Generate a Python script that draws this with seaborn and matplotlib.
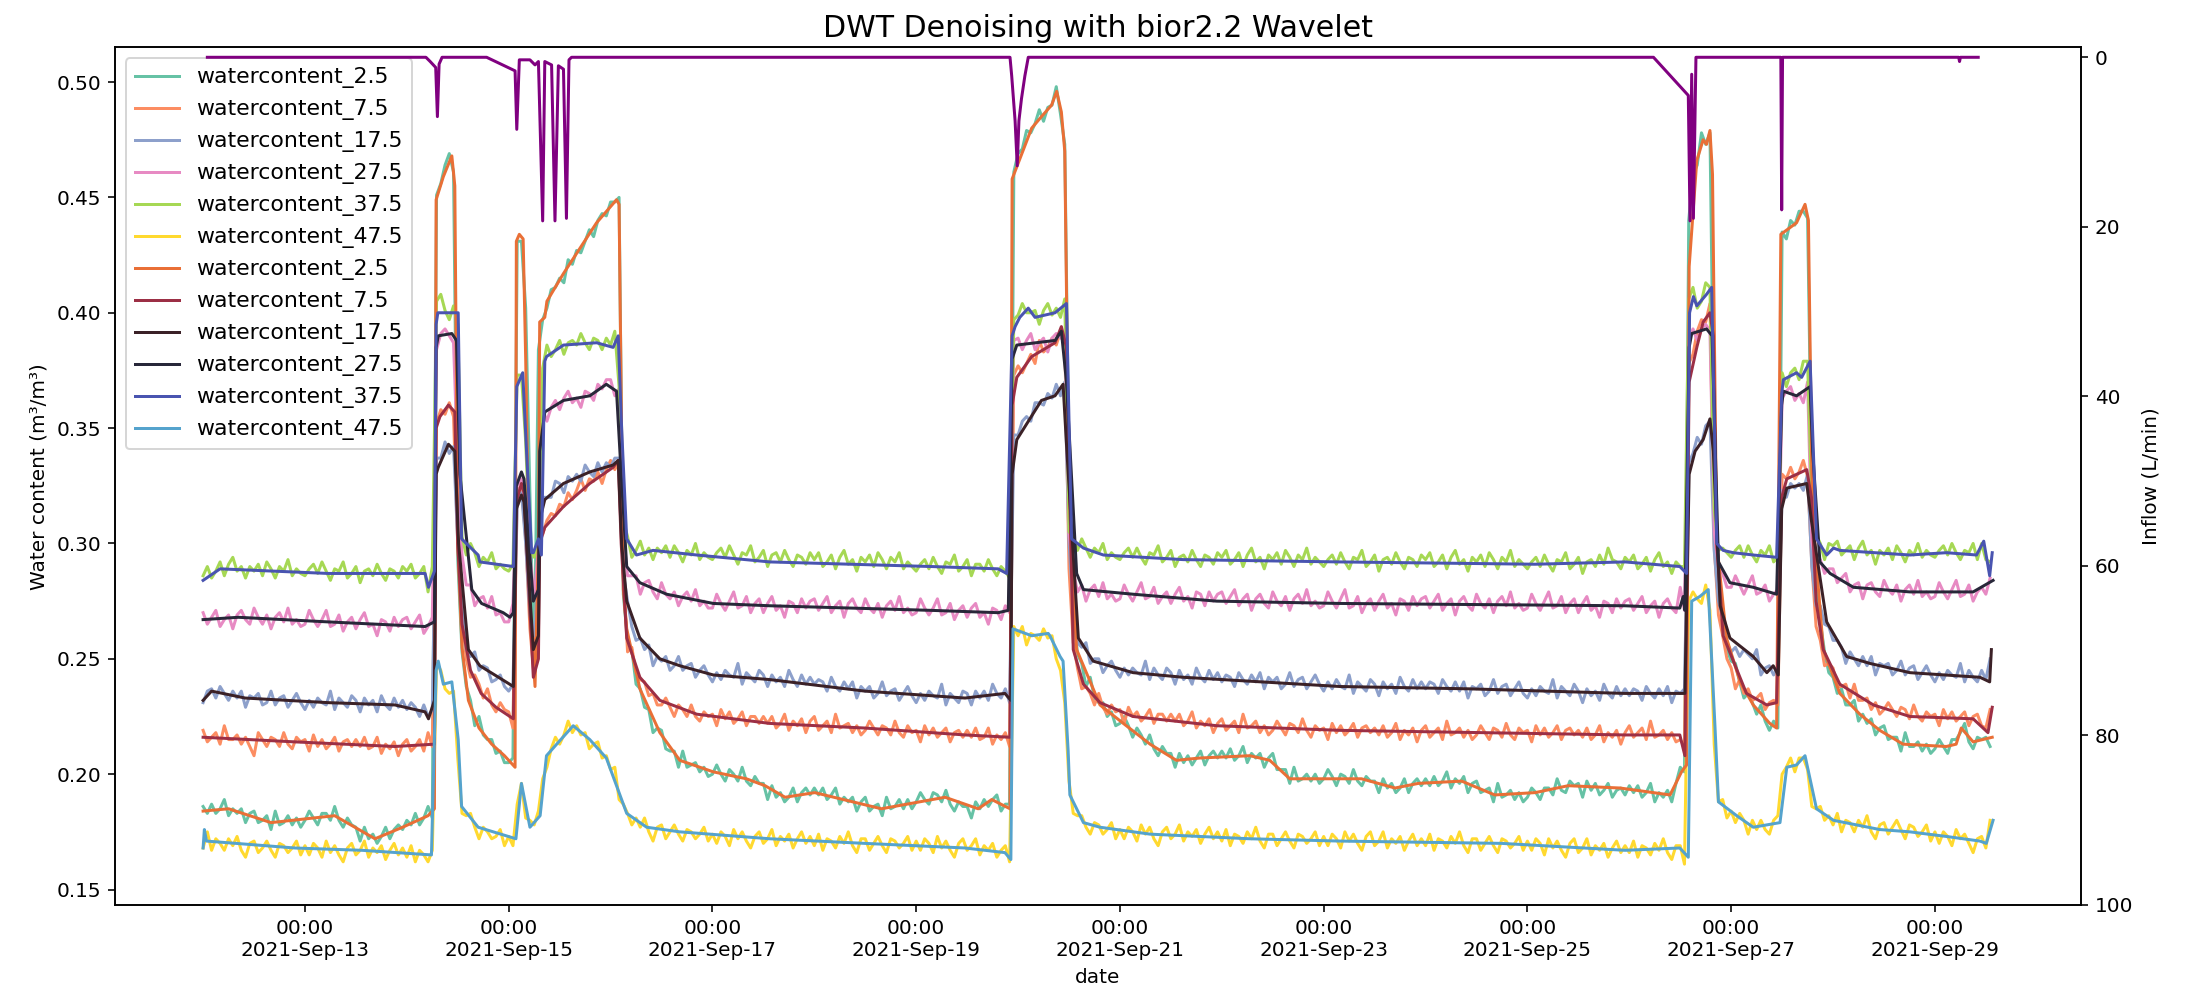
import numpy as np
import pandas as pd
import matplotlib
matplotlib.use("Agg")
import matplotlib.pyplot as plt
import matplotlib.dates as mdates
import seaborn as sns

START = pd.Timestamp("2021-09-12 00:00")
depths = ["2.5", "7.5", "17.5", "27.5", "37.5", "47.5"]

# Hourly probe readings (thousandths of m3/m3), one row per day from 2021-09-12 00:00
raw_wc_2_5 = [
    186,183,187,183,185,189,182,185,183,185,179,183,184,179,180,182,176,184,178,179,182,178,181,177,
    180,184,181,178,183,183,180,186,180,177,181,178,177,171,177,172,174,170,173,177,172,176,178,176,
    180,178,183,178,181,186,181,451,456,464,469,461,293,253,238,232,221,225,217,215,215,209,210,205,
    205,207,431,431,402,321,243,384,397,402,410,411,415,413,423,421,427,426,431,436,433,440,443,442,
    448,448,450,278,258,254,239,237,229,228,218,220,219,211,210,210,203,210,203,204,205,201,203,199,
    200,204,200,197,202,200,197,203,197,195,199,196,196,189,195,190,192,188,190,194,188,192,194,191,
    194,191,194,189,191,194,187,190,188,190,184,188,190,184,186,187,182,190,185,186,189,185,189,185,
    188,192,189,187,192,191,188,193,187,184,188,186,186,181,188,185,189,186,189,191,184,187,187,461,
    469,471,479,478,482,488,483,489,490,498,486,473,333,273,252,248,238,242,233,231,231,225,227,221,
    222,225,221,216,220,217,213,217,211,208,212,209,209,203,209,205,208,204,207,210,204,208,210,207,
    210,207,211,206,208,212,205,209,207,209,203,207,209,202,202,202,196,203,197,198,200,197,200,196,
    198,202,199,195,200,199,196,202,197,195,199,197,197,192,198,194,196,192,194,198,192,196,198,195,
    198,195,199,195,197,201,194,198,196,199,192,196,197,192,193,194,188,196,190,191,193,189,192,188,
    190,194,192,189,194,194,191,198,193,192,197,195,196,190,197,193,196,191,193,196,190,193,194,191,
    195,192,195,190,192,196,188,192,190,193,188,196,203,201,440,460,464,478,473,478,342,283,267,254,
    249,248,240,233,235,231,226,230,223,219,223,220,435,432,440,438,444,444,441,323,287,266,253,244,
    242,235,237,230,230,232,223,226,222,224,217,220,221,215,216,216,210,218,212,212,214,210,213,209,
    211,215,212,209,215,215,218,222,214,211,216,215,216,212,
]
raw_wc_7_5 = [
    219,214,216,218,213,221,215,215,217,213,216,212,208,218,215,212,216,215,212,218,213,211,216,214,
    215,210,217,212,215,211,213,216,210,214,215,212,215,212,216,211,212,216,209,213,211,214,208,213,
    215,210,212,215,210,218,212,352,358,356,361,355,299,268,250,242,243,239,233,237,230,227,231,228,
    227,220,323,325,302,263,242,303,304,310,313,312,317,316,322,319,323,328,323,328,327,331,326,332,
    336,332,336,287,253,255,244,241,240,234,235,230,230,233,229,225,230,228,225,230,225,223,227,225,
    226,221,228,224,227,222,224,227,221,225,225,222,225,222,225,220,222,226,219,223,221,224,218,223,
    225,219,221,223,218,226,220,221,222,218,221,217,219,223,220,217,221,220,217,223,218,216,221,218,
    219,214,221,217,220,216,218,220,214,218,219,216,219,216,220,215,216,220,213,217,215,218,212,373,
    377,374,378,382,378,388,383,385,389,386,392,389,289,257,246,237,238,235,230,235,229,226,230,227,
    228,222,229,225,227,223,225,228,222,226,226,223,226,223,226,221,223,227,220,223,221,224,218,222,
    224,219,221,223,218,226,220,221,223,218,221,217,219,223,220,217,222,221,218,224,219,216,221,219,
    220,215,222,218,221,217,219,222,216,220,221,218,220,217,221,216,218,222,215,219,217,220,214,219,
    221,216,218,220,215,223,217,218,220,216,219,215,217,221,218,215,220,219,216,222,217,215,220,218,
    219,214,221,217,220,216,218,221,215,219,220,217,219,216,220,215,217,221,214,218,216,219,213,218,
    221,216,218,220,215,223,216,217,219,215,218,214,215,212,378,382,392,397,396,404,299,269,260,250,
    246,237,241,235,237,232,233,235,228,231,232,230,330,328,333,328,331,336,329,291,264,258,247,248,
    246,238,238,239,233,239,232,232,233,228,231,226,228,231,228,225,229,228,224,230,225,223,227,225,
    226,221,228,224,227,223,225,227,221,225,226,221,220,228,
]
raw_wc_17_5 = [
    231,236,237,233,238,235,232,236,233,236,229,234,233,235,230,231,236,230,233,234,229,232,235,231,
    228,232,229,233,231,230,236,228,233,231,229,234,232,227,233,230,232,227,234,230,228,233,229,232,
    228,231,229,225,230,225,228,337,337,344,339,342,300,272,254,251,253,245,247,246,240,241,243,238,
    236,239,316,322,300,269,260,287,320,320,320,327,326,322,329,327,330,327,334,331,329,335,331,335,
    333,337,337,287,275,264,258,259,254,256,247,251,249,251,245,247,251,245,247,248,242,245,247,243,
    240,244,241,245,243,242,248,239,244,242,240,245,243,238,243,240,242,238,245,241,238,243,239,242,
    239,241,240,236,242,238,236,240,237,240,233,238,236,238,233,235,240,234,236,237,232,235,238,234,
    231,235,232,236,234,233,239,230,235,233,231,236,235,230,236,233,236,232,239,235,233,237,231,347,
    347,353,355,353,361,361,360,365,363,369,364,370,300,272,257,255,257,248,250,250,244,247,249,245,
    242,246,243,246,244,243,249,241,246,243,241,246,244,239,245,241,243,239,246,242,240,245,241,244,
    240,243,242,238,244,241,239,243,240,244,237,242,240,242,237,239,244,238,241,242,237,240,243,239,
    236,240,237,241,238,237,243,235,240,238,236,241,239,234,240,237,239,235,242,238,236,241,237,240,
    237,240,239,235,241,238,236,240,236,240,233,238,237,239,234,236,241,235,238,239,234,237,240,235,
    233,237,234,238,236,235,241,233,238,236,234,239,236,231,237,234,236,232,239,235,233,238,234,237,
    234,237,236,232,238,235,233,237,234,238,231,236,235,237,335,339,346,343,351,353,297,275,268,257,
    253,255,251,254,252,250,254,243,246,247,243,246,323,320,326,324,326,323,330,290,273,273,265,264,
    258,258,255,248,253,250,247,251,247,251,243,248,247,248,243,245,249,243,246,247,241,244,247,243,
    240,244,241,245,243,242,248,240,245,242,240,245,241,250,
]
raw_wc_27_5 = [
    270,265,268,271,264,267,269,263,269,271,267,265,272,268,265,269,263,268,270,266,272,265,267,264,
    265,271,267,264,267,271,264,265,269,262,266,268,263,267,270,264,265,260,267,266,262,268,264,267,
    268,263,266,269,261,264,268,384,391,393,390,387,334,295,282,282,273,276,277,272,277,269,270,266,
    266,274,325,328,316,295,276,299,358,353,359,362,358,363,366,361,363,359,366,365,362,369,367,371,
    371,364,367,304,286,286,286,278,283,284,279,276,283,278,276,279,273,277,279,275,280,273,275,272,
    272,278,274,271,275,279,272,273,277,270,274,276,270,274,277,271,273,268,275,274,270,276,272,275,
    276,271,274,277,270,273,275,268,274,276,272,270,276,272,270,274,268,273,275,271,277,270,272,269,
    270,276,272,269,272,276,269,270,274,267,271,273,268,272,274,268,270,265,272,271,267,273,270,388,
    389,384,388,391,384,387,389,383,389,391,389,389,304,288,279,282,275,280,282,277,283,276,278,275,
    276,282,278,275,279,283,276,277,281,274,277,279,274,278,281,275,277,272,279,278,273,279,275,278,
    279,274,277,280,273,276,278,271,276,278,274,272,279,275,273,277,271,276,278,274,280,273,275,272,
    273,279,275,272,276,280,272,273,277,270,274,276,271,275,278,272,274,269,276,275,271,277,273,276,
    277,272,275,278,271,274,276,269,275,277,273,271,278,274,272,276,270,275,277,273,279,272,274,271,
    272,278,274,271,275,279,272,273,277,270,274,276,270,274,277,271,273,268,275,274,270,276,272,275,
    276,271,274,277,270,273,275,268,274,276,272,270,281,271,388,393,388,393,395,392,305,290,287,281,
    281,286,282,278,282,286,278,279,282,275,278,280,363,366,368,362,365,361,370,301,290,293,287,289,
    289,283,285,287,279,282,283,276,282,283,279,277,284,280,278,282,275,280,282,278,284,277,279,276,
    277,283,279,276,280,284,277,278,282,275,279,281,278,285,
]
raw_wc_37_5 = [
    286,290,285,288,292,286,291,294,288,290,285,290,288,291,286,292,289,285,290,288,293,286,289,287,
    286,289,291,287,292,288,284,289,288,292,285,287,290,283,288,289,286,291,287,284,289,288,285,290,
    288,291,285,287,290,279,290,405,408,401,397,403,395,303,295,300,296,290,294,292,296,289,291,289,
    288,291,373,373,344,297,294,302,376,386,381,384,388,382,387,388,386,391,387,384,389,388,384,389,
    386,392,368,310,303,294,297,301,295,298,293,298,296,299,294,299,296,292,297,295,300,293,296,294,
    293,296,298,294,299,295,291,296,295,299,292,294,297,290,295,296,292,297,293,290,295,294,291,296,
    293,296,290,292,295,289,294,297,291,293,288,294,292,295,290,296,293,289,294,292,296,289,292,290,
    288,291,293,289,294,290,287,292,291,295,288,290,293,286,291,291,288,293,289,286,290,288,285,397,
    399,404,400,400,401,395,401,404,399,402,398,406,305,303,297,302,298,294,298,296,300,293,296,294,
    293,296,298,294,298,294,291,296,295,299,292,294,297,290,294,295,292,297,293,290,295,294,291,296,
    294,297,291,293,296,290,295,298,292,294,289,295,293,296,291,297,294,290,295,293,298,291,294,292,
    290,293,295,291,296,292,289,294,293,297,290,292,295,288,293,294,291,296,292,289,294,293,290,295,
    293,296,290,292,295,289,294,297,291,293,288,294,292,295,290,296,293,289,294,292,297,290,293,291,
    289,292,294,290,295,291,288,293,292,296,289,291,294,287,292,293,290,295,291,298,293,292,289,294,
    292,295,289,291,294,288,293,296,290,292,287,292,290,290,406,411,402,405,413,411,315,297,298,296,
    294,297,299,294,299,295,292,297,295,299,292,294,374,368,374,376,371,379,379,317,304,300,293,300,
    299,301,295,297,299,293,298,301,295,297,291,297,295,298,293,299,296,292,297,295,300,294,297,295,
    294,297,299,295,300,296,293,297,296,300,293,300,293,292,
]
raw_wc_47_5 = [
    168,175,167,172,170,167,172,169,173,167,164,170,171,166,168,171,167,164,170,169,166,168,171,165,
    169,165,170,168,164,171,166,169,165,162,168,170,165,167,171,164,168,166,169,163,167,170,165,168,
    164,169,162,167,165,162,167,248,245,237,235,236,207,183,182,183,177,172,177,175,172,173,176,169,
    173,169,187,196,181,180,178,184,198,203,211,216,213,217,223,218,221,217,218,211,213,214,207,208,
    202,203,189,187,183,178,181,177,181,175,171,177,178,172,175,178,174,171,176,175,172,174,177,171,
    174,170,175,173,169,176,172,175,171,168,173,175,170,172,176,169,173,171,174,168,172,175,170,173,
    169,174,167,172,171,168,173,170,175,169,166,172,172,167,170,173,169,166,172,171,168,170,173,167,
    171,167,172,170,166,173,168,171,167,164,170,172,167,169,172,165,169,167,170,164,167,169,162,264,
    260,264,256,261,260,258,263,259,260,250,245,231,197,183,182,182,177,174,179,178,174,176,179,172,
    176,172,177,175,171,178,174,177,172,169,175,177,172,174,178,171,175,173,176,170,174,177,172,175,
    171,176,169,174,173,170,175,172,177,171,168,174,174,169,172,175,171,168,174,173,170,172,175,169,
    173,169,174,172,168,175,171,174,170,167,173,175,169,171,175,168,172,170,173,167,171,174,169,172,
    169,174,167,172,171,168,173,170,175,169,166,172,172,167,170,173,169,166,172,171,168,170,173,167,
    171,167,172,170,165,172,168,171,167,164,170,172,166,168,172,165,169,167,170,164,168,171,166,169,
    166,171,164,169,168,165,170,167,172,166,163,169,169,161,275,279,276,274,282,271,213,188,189,181,
    184,179,183,180,174,180,176,180,176,174,180,182,200,203,207,201,207,207,202,186,185,186,180,182,
    178,183,175,180,179,175,180,177,182,175,172,178,179,174,177,180,176,172,178,177,173,175,178,171,
    175,170,175,173,169,176,172,174,170,166,172,173,168,180,
]

# Denoised curves: (hours since 2021-09-12 00:00, m3/m3)
den_wc_2_5 = [
    (0, .184), (6, .185), (16, .179), (31, .182), (40.5, .172), (47, .177), (53, .182), (54.5, .185),
    (54.9, .449), (56.6, .459), (58.6, .468), (59.3, .455), (60.0, .300), (61, .255), (62.5, .232),
    (65, .220), (68, .213), (71, .208), (73.5, .203), (73.8, .431), (74.5, .434), (75.4, .432),
    (76, .380), (77, .270), (78.2, .238), (79.0, .300), (79.3, .396), (80.5, .398), (81, .405),
    (84.9, .417), (88.8, .428), (92.7, .439), (97.4, .449), (98.0, .447), (98.7, .330), (99.0, .280),
    (99.8, .263), (102.9, .237), (107.6, .218), (112.3, .206), (120.2, .201), (128, .198),
    (132.4, .195), (137.1, .190), (144.1, .192), (159.8, .185), (174.8, .190), (182.6, .185),
    (185.8, .189), (190.1, .185), (190.6, .458), (195.2, .480), (197.5, .485), (199.9, .490),
    (201.1, .496), (202.2, .487), (203.0, .470), (203.8, .350), (204.6, .290), (205.8, .254),
    (211.3, .230), (216.8, .222), (223.1, .213), (229.3, .206), (234.8, .207), (246.6, .208),
    (251.3, .206), (256, .198), (266.6, .198), (272.9, .198), (280.8, .194), (286.3, .196),
    (296.5, .197), (304.3, .191), (313.8, .192), (321.6, .195), (333.8, .194), (345.6, .191),
    (348.3, .201), (349.5, .204), (350.1, .420), (351.9, .466), (353.4, .475), (354.2, .473),
    (355.0, .479), (355.6, .460), (356.6, .300), (358.9, .259), (362.1, .240), (365.2, .230),
    (369.1, .222), (370.7, .220), (371.7, .434), (375.4, .439), (377.4, .447), (378.2, .440),
    (379.0, .330), (379.7, .300), (381.7, .254), (385.6, .235), (390.3, .226), (395, .219),
    (400.5, .213), (410.7, .212), (413, .213), (414.2, .220), (417, .214), (421.5, .216),
]
den_wc_7_5 = [
    (0, .216), (21.6, .214), (45.2, .212), (54.5, .213), (54.9, .350), (55.8, .355), (57.8, .360),
    (59.3, .357), (60.0, .300), (61, .265), (63, .245), (65.5, .235), (69, .229), (73.1, .224),
    (73.8, .318), (75.0, .326), (75.6, .322), (77.8, .242), (79.0, .250), (79.3, .300), (80.5, .307),
    (84.9, .316), (91.1, .326), (96.6, .333), (97.8, .336), (98.5, .300), (99.8, .259), (102.9, .242),
    (107.6, .232), (116.3, .226), (133.5, .222), (155.9, .220), (179.5, .217), (190.1, .216),
    (190.6, .360), (191.7, .372), (195.2, .381), (200.7, .387), (202.2, .394), (203.4, .385),
    (205, .254), (207.4, .239), (211.3, .231), (219.1, .225), (238.8, .221), (267.8, .219),
    (335, .217), (347.9, .217), (349.1, .208), (350.1, .370), (351.9, .385), (353.4, .396),
    (355, .400), (355.8, .390), (356.6, .300), (358.1, .260), (363.6, .235), (368.4, .230),
    (370.7, .231), (371.9, .320), (373.1, .328), (377.8, .332), (378.9, .320), (380, .275),
    (381.7, .254), (385.6, .239), (393.5, .230), (402.1, .225), (417, .224), (420.5, .218),
    (421.5, .229),
]
den_wc_17_5 = [
    (0, .232), (2, .236), (9.9, .233), (29.5, .231), (45.2, .230), (52.3, .227), (53.1, .224),
    (54.5, .232), (54.9, .330), (55.4, .333), (57.8, .343), (59.3, .340), (60.2, .300), (62.5, .254),
    (65.2, .247), (73.1, .238), (73.8, .315), (75.0, .321), (75.6, .318), (77.8, .254), (79.0, .260),
    (79.3, .310), (80.5, .319), (84.9, .326), (91.1, .331), (96.6, .334), (97.8, .336), (98.6, .300),
    (99.8, .275), (102.9, .259), (107.6, .250), (112.3, .247), (120.2, .243), (133.5, .241),
    (155.9, .236), (179.5, .233), (188.9, .235), (190.3, .232), (190.6, .330), (191.7, .345),
    (197.5, .362), (200.7, .364), (202.6, .369), (203.5, .340), (206.2, .259), (209.7, .249),
    (219.1, .244), (230.9, .242), (267.8, .238), (298, .237), (335, .235), (349.1, .235),
    (350.1, .330), (351.5, .340), (353.4, .345), (355, .354), (355.8, .340), (357.4, .273),
    (359.7, .259), (365.2, .251), (368.4, .244), (369.9, .247), (371.1, .243), (371.9, .315),
    (373.1, .324), (377.8, .326), (378.9, .310), (382.5, .266), (387.2, .251), (392.7, .248),
    (402.1, .244), (418.6, .242), (420.9, .240), (421.3, .254),
]
den_wc_27_5 = [
    (0, .267), (8.3, .268), (29.5, .266), (52.3, .264), (54.5, .266), (54.9, .385), (55.4, .390),
    (58.6, .391), (59.7, .388), (60.5, .330), (63.3, .280), (65.6, .274), (70.7, .270), (72.3, .268),
    (73.1, .270), (73.8, .325), (75.0, .331), (75.6, .328), (77.8, .275), (79.0, .280), (79.3, .340),
    (80.5, .357), (84.9, .362), (91.1, .364), (95, .369), (97.4, .366), (98.5, .330), (99.8, .290),
    (102.9, .283), (109.2, .278), (120.2, .274), (133.5, .273), (171.6, .271), (187.3, .270),
    (189.7, .271), (190.6, .380), (191.7, .386), (200.7, .388), (202.2, .392), (203.4, .370),
    (205.8, .287), (207.4, .280), (219.1, .278), (238.8, .275), (267.8, .274), (335, .273),
    (347.9, .272), (348.7, .277), (349.1, .271), (350.1, .385), (350.7, .391), (354.2, .393),
    (355.5, .390), (357, .292), (359.7, .283), (365.2, .281), (370.7, .278), (371.9, .360),
    (372.3, .366), (375.4, .364), (378.6, .368), (379.2, .340), (380.9, .292), (383.3, .287),
    (388.8, .281), (402.1, .279), (417, .279), (421.7, .284),
]
den_wc_37_5 = [
    (0, .284), (4, .289), (29.5, .287), (52.3, .287), (53.1, .281), (54.5, .288), (54.9, .395),
    (55.3, .400), (60.1, .400), (60.9, .302), (64.8, .295), (65.2, .292), (73.1, .290), (73.9, .368),
    (75.3, .374), (76.2, .340), (77.4, .296), (77.8, .296), (79, .302), (79.7, .295), (80.5, .379),
    (80.9, .381), (84.9, .386), (92.7, .387), (96.6, .385), (97.8, .390), (98.6, .350), (99.8, .302),
    (102.1, .295), (106, .297), (116.3, .295), (133.5, .292), (171.6, .290), (187.3, .289),
    (189.3, .287), (190.6, .390), (191.3, .394), (192.4, .398), (194.4, .402), (196, .398),
    (200.7, .400), (203.4, .404), (204.6, .302), (207.4, .298), (212.1, .295), (230.9, .293),
    (267.8, .292), (313.8, .291), (335, .292), (347.9, .290), (349.5, .287), (350.2, .400),
    (351.1, .407), (351.9, .403), (354.2, .408), (355.4, .411), (356.6, .300), (358.1, .297),
    (360.5, .296), (365.2, .295), (370.7, .294), (371.9, .365), (372.3, .371), (375.4, .374),
    (376.6, .372), (378.6, .379), (380.1, .302), (382.5, .295), (384.1, .298), (385.6, .297),
    (402.1, .295), (410.7, .296), (417.8, .295), (419.5, .301), (420.9, .286), (421.5, .296),
]
den_wc_47_5 = [
    (0, .168), (0.3, .176), (0.8, .171), (21.6, .168), (37.4, .167), (53.8, .165), (54.9, .245),
    (55.4, .249), (56.6, .239), (58.6, .240), (60.1, .215), (60.9, .186), (64.8, .177), (73.7, .172),
    (75, .196), (77, .177), (79.4, .182), (80.9, .208), (83.3, .213), (87.2, .221), (91.1, .215),
    (95, .207), (98.2, .191), (99.8, .183), (104.5, .177), (112.3, .175), (133.5, .172),
    (155.9, .170), (179.5, .168), (188.9, .166), (190.3, .163), (190.8, .263), (195.2, .260),
    (199.1, .261), (199.5, .260), (201.9, .251), (202.6, .249), (203.8, .210), (204.2, .191),
    (207.4, .179), (211.3, .177), (223.1, .174), (246.6, .172), (267.8, .171), (305.9, .170),
    (335, .167), (347.9, .168), (349.9, .164), (350.7, .275), (352.6, .277), (354.6, .280),
    (356.2, .220), (357, .188), (361.3, .182), (365.2, .177), (371.5, .179), (373.1, .203),
    (375.4, .204), (377.4, .208), (380.1, .185), (384.1, .180), (395, .176), (402.1, .175),
    (410.7, .173), (418.6, .171), (420.1, .170), (421.7, .180),
]

# Inflow (L/min): (hours since 2021-09-12 00:00, flow)
inflow = [
    (1, 0), (52.5, 0), (53.5, 0.5), (54.8, 1.2), (55.2, 7.0), (55.6, 0.8), (56.3, 0), (66.8, 0),
    (73.5, 1.6), (73.9, 8.5), (74.5, 0.3), (77, 0.3), (78.2, 0.9), (79, 0.5), (80.0, 19.3),
    (80.5, 0.5), (82.1, 0.9), (82.9, 19.3), (83.7, 1.0), (84.9, 1.4), (85.6, 19.0), (86.2, 0.3),
    (86.8, 0), (190.1, 0), (190.5, 2.2), (191.3, 7.5), (191.8, 12.8), (192.2, 7.5), (192.8, 4.9),
    (193.6, 2.2), (194.4, 0), (341.7, 0), (349.9, 4.5), (350.3, 19.3), (350.7, 2.0), (351.1, 19.0),
    (351.7, 0), (371.7, 0), (371.9, 18.0), (372.1, 0), (413.6, 0), (413.8, 0.5), (414.0, 0),
    (418.2, 0),
]

raw_series = [raw_wc_2_5, raw_wc_7_5, raw_wc_17_5, raw_wc_27_5, raw_wc_37_5, raw_wc_47_5]
den_series = [den_wc_2_5, den_wc_7_5, den_wc_17_5, den_wc_27_5, den_wc_37_5, den_wc_47_5]


def at_hours(h):
    return START + pd.to_timedelta(np.asarray(h, dtype=float), unit="h")


fig, ax = plt.subplots(figsize=(2190 / 144, 997 / 144), dpi=144)
fig.subplots_adjust(left=0.0525, right=0.9502, top=0.9524, bottom=0.0923)

raw_colors = sns.color_palette("Set2", 6)
den_colors = sns.color_palette("icefire_r", 6)

for depth, vals, col in zip(depths, raw_series, raw_colors):
    t = at_hours(np.arange(len(vals)))
    sns.lineplot(x=t, y=np.asarray(vals) / 1000.0, ax=ax, color=col,
                 linewidth=1.5, label=f"watercontent_{depth}")

for depth, knots, col in zip(depths, den_series, den_colors):
    h, v = zip(*knots)
    sns.lineplot(x=at_hours(h), y=np.asarray(v), ax=ax, color=col,
                 linewidth=1.5, label=f"watercontent_{depth}")

ax2 = ax.twinx()
fh, fv = zip(*inflow)
sns.lineplot(x=at_hours(fh), y=np.asarray(fv), ax=ax2, color="purple",
             linewidth=1.5, legend=False)
ax2.set_ylim(100, -1.16)
ax2.set_yticks([0, 20, 40, 60, 80, 100])
ax2.set_ylabel("Inflow (L/min)")

ax.set_xlim(at_hours(-20.76), at_hours(442.4))
ax.set_ylim(0.1433, 0.515)
ax.xaxis.set_major_locator(mdates.DayLocator(bymonthday=range(13, 30, 2)))
ax.xaxis.set_major_formatter(mdates.DateFormatter("%H:%M\n%Y-%b-%d"))
for lbl in ax.get_xticklabels():
    lbl.set_horizontalalignment("center")

ax.set_xlabel("date")
ax.set_ylabel("Water content (m³/m³)")
ax.set_title("DWT Denoising with bior2.2 Wavelet", fontsize=15, pad=5)
ax.legend(loc="upper left", fontsize=11)

fig.savefig("out.png", dpi=144)
